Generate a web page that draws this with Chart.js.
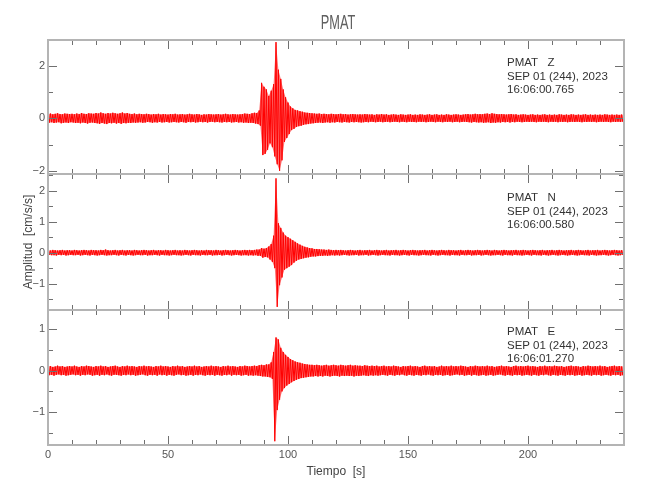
<!DOCTYPE html>
<html>
<head>
<meta charset="utf-8">
<script src="https://cdn.jsdelivr.net/npm/chart.js@4.4.0/dist/chart.umd.min.js"></script>
<style>
  html, body { margin: 0; padding: 0; background: #fff; }
  #wrap { position: relative; width: 650px; height: 500px; overflow: hidden; }
  #wrap canvas { position: absolute; left: 0; top: 0; }
  .txt { position: absolute; font-family: "Liberation Sans", Arial, sans-serif; white-space: pre; }
  #title { left: 288px; width: 100px; top: 12px; font-size: 20.6px; line-height: 20.6px;
           text-align: center; color: #606060; transform: scaleX(0.62); }
  .info { left: 507px; font-size: 11.5px; line-height: 13.5px; color: #333; }
</style>
</head>
<body>
<div id="wrap">
  <canvas id="cZ" width="650" height="500"></canvas>
  <canvas id="cN" width="650" height="500"></canvas>
  <canvas id="cE" width="650" height="500"></canvas>
  <div id="title" class="txt"></div>
  <div id="infoZ" class="txt info" style="top:56px"></div>
  <div id="infoN" class="txt info" style="top:191px"></div>
  <div id="infoE" class="txt info" style="top:325px"></div>
</div>
<script>
// envelope of each trace, one value per second (hi at t, lo at t + 0.5), cm/s/s
const dt = 1;
const zHi = [.16,.18,.15,.17,.19,.16,.15,.18,.17,.16,
  .17,.15,.18,.16,.20,.17,.16,.19,.18,.17,
  .20,.18,.22,.19,.17,.20,.18,.21,.19,.17,
  .19,.22,.18,.20,.17,.16,.18,.15,.17,.16,
  .15,.17,.16,.14,.16,.15,.17,.14,.16,.15,
  .14,.16,.15,.17,.14,.15,.16,.14,.15,.17,
  .15,.14,.16,.15,.13,.15,.14,.16,.15,.14,
  .15,.16,.14,.15,.17,.15,.14,.16,.15,.14,
  .15,.16,.18,.17,.16,.19,.21,.20,.30,1.35,
  1.20,1.10,.85,1.05,1.30,2.90,1.85,1.50,1.10,.80,
  .60,.45,.38,.32,.30,.27,.25,.22,.21,.20,
  .19,.18,.17,.18,.16,.17,.16,.15,.17,.16,
  .15,.16,.17,.15,.16,.14,.15,.16,.15,.14,
  .15,.14,.16,.15,.14,.15,.13,.15,.14,.16,
  .14,.15,.13,.14,.15,.14,.13,.15,.14,.13,
  .14,.15,.13,.14,.13,.15,.14,.13,.14,.15,
  .13,.14,.15,.13,.14,.13,.15,.14,.13,.14,
  .15,.14,.13,.14,.15,.16,.14,.15,.17,.15,
  .16,.15,.17,.18,.16,.19,.17,.16,.15,.16,
  .15,.14,.15,.16,.14,.15,.13,.14,.15,.14,
  .13,.14,.15,.13,.14,.13,.14,.15,.13,.14,
  .13,.14,.13,.15,.14,.13,.14,.13,.15,.14,
  .13,.14,.13,.14,.15,.13,.14,.13,.14,.13,
  .14,.13,.15,.14,.13,.14,.13,.14,.13,.14,
  .13];
const zLo = [-.17,-.15,-.18,-.16,-.15,-.19,-.17,-.16,-.18,-.15,
  -.16,-.18,-.17,-.19,-.16,-.18,-.20,-.17,-.16,-.18,
  -.19,-.21,-.18,-.20,-.22,-.18,-.19,-.17,-.20,-.18,
  -.21,-.18,-.19,-.17,-.18,-.16,-.17,-.16,-.15,-.17,
  -.16,-.14,-.15,-.17,-.15,-.16,-.14,-.16,-.15,-.14,
  -.16,-.15,-.14,-.15,-.16,-.14,-.15,-.17,-.14,-.15,
  -.14,-.16,-.15,-.13,-.15,-.14,-.16,-.14,-.13,-.15,
  -.14,-.15,-.16,-.14,-.15,-.14,-.16,-.15,-.14,-.16,
  -.15,-.17,-.16,-.18,-.17,-.18,-.20,-.22,-.28,-1.40,
  -1.35,-1.20,-.95,-1.10,-1.45,-1.75,-2.00,-1.60,-.90,-.75,
  -.60,-.45,-.40,-.33,-.30,-.28,-.25,-.23,-.22,-.20,
  -.19,-.18,-.17,-.16,-.18,-.16,-.15,-.17,-.15,-.16,
  -.14,-.15,-.16,-.14,-.15,-.16,-.14,-.15,-.14,-.15,
  -.16,-.15,-.14,-.15,-.13,-.14,-.15,-.14,-.13,-.15,
  -.14,-.13,-.15,-.14,-.13,-.14,-.15,-.13,-.14,-.15,
  -.13,-.14,-.14,-.15,-.13,-.14,-.13,-.15,-.14,-.13,
  -.14,-.15,-.13,-.14,-.15,-.13,-.14,-.13,-.15,-.14,
  -.13,-.15,-.14,-.13,-.14,-.15,-.16,-.14,-.15,-.16,
  -.15,-.17,-.16,-.15,-.18,-.16,-.17,-.15,-.16,-.14,
  -.15,-.14,-.16,-.14,-.15,-.13,-.14,-.15,-.14,-.13,
  -.14,-.13,-.14,-.15,-.13,-.14,-.13,-.14,-.15,-.13,
  -.14,-.13,-.15,-.13,-.14,-.13,-.15,-.14,-.13,-.14,
  -.13,-.14,-.15,-.13,-.14,-.13,-.14,-.13,-.15,-.14,
  -.13,-.14,-.13,-.14,-.15,-.13,-.14,-.13,-.14,-.13];

const nHi = [.08,.07,.09,.08,.07,.08,.09,.07,.08,.08,
  .07,.09,.08,.07,.08,.09,.08,.07,.09,.08,
  .08,.07,.09,.08,.10,.08,.07,.08,.09,.07,
  .08,.09,.07,.08,.08,.07,.09,.08,.07,.08,
  .09,.08,.07,.08,.09,.07,.08,.08,.07,.09,
  .08,.07,.08,.09,.07,.08,.07,.09,.08,.07,
  .08,.09,.08,.07,.08,.07,.09,.08,.08,.07,
  .09,.08,.07,.08,.09,.08,.07,.08,.09,.08,
  .07,.08,.09,.08,.09,.08,.09,.10,.10,.15,
  .13,.15,.20,.28,.55,2.40,.95,.80,.65,.55,
  .50,.45,.40,.35,.30,.26,.22,.19,.17,.15,
  .14,.12,.12,.11,.10,.10,.09,.10,.09,.08,
  .09,.08,.09,.08,.07,.08,.09,.08,.07,.08,
  .09,.07,.08,.08,.09,.07,.08,.09,.08,.07,
  .08,.09,.07,.08,.08,.09,.07,.08,.09,.08,
  .07,.08,.09,.08,.07,.08,.08,.09,.07,.08,
  .09,.08,.07,.08,.09,.08,.07,.09,.08,.08,
  .07,.08,.09,.07,.08,.09,.08,.07,.08,.09,
  .08,.07,.08,.09,.08,.07,.09,.08,.07,.08,
  .09,.08,.07,.08,.08,.09,.07,.08,.09,.08,
  .07,.08,.09,.08,.07,.08,.09,.07,.08,.08,
  .09,.07,.08,.09,.08,.07,.08,.08,.09,.07,
  .08,.09,.08,.07,.08,.09,.07,.08,.08,.09,
  .07,.08,.09,.08,.07,.08,.09,.08,.07,.08,
  .08];
const nLo = [-.07,-.08,-.08,-.09,-.07,-.08,-.07,-.09,-.08,-.07,
  -.08,-.08,-.07,-.09,-.08,-.07,-.08,-.09,-.07,-.08,
  -.09,-.08,-.07,-.08,-.09,-.08,-.08,-.07,-.08,-.09,
  -.07,-.08,-.09,-.07,-.08,-.09,-.08,-.07,-.08,-.08,
  -.07,-.09,-.08,-.08,-.07,-.08,-.09,-.07,-.08,-.08,
  -.09,-.08,-.07,-.08,-.08,-.09,-.08,-.07,-.08,-.09,
  -.07,-.08,-.08,-.09,-.07,-.08,-.08,-.07,-.09,-.08,
  -.08,-.07,-.09,-.08,-.07,-.08,-.09,-.08,-.07,-.08,
  -.09,-.08,-.08,-.09,-.08,-.09,-.08,-.10,-.10,-.16,
  -.14,-.15,-.22,-.30,-.50,-1.75,-1.05,-.80,-.55,-.50,
  -.45,-.40,-.32,-.26,-.22,-.20,-.18,-.16,-.15,-.13,
  -.12,-.12,-.11,-.10,-.10,-.09,-.10,-.09,-.08,-.09,
  -.08,-.09,-.08,-.07,-.08,-.09,-.08,-.08,-.07,-.09,
  -.08,-.08,-.07,-.09,-.08,-.07,-.08,-.09,-.08,-.07,
  -.08,-.08,-.09,-.07,-.08,-.08,-.09,-.08,-.07,-.08,
  -.09,-.07,-.08,-.08,-.09,-.08,-.07,-.08,-.08,-.09,
  -.07,-.08,-.09,-.08,-.07,-.08,-.08,-.09,-.07,-.08,
  -.08,-.09,-.07,-.08,-.08,-.07,-.09,-.08,-.08,-.07,
  -.09,-.08,-.07,-.08,-.09,-.08,-.08,-.07,-.08,-.09,
  -.07,-.08,-.08,-.09,-.07,-.08,-.08,-.09,-.08,-.07,
  -.08,-.09,-.07,-.08,-.08,-.09,-.07,-.08,-.09,-.08,
  -.07,-.08,-.09,-.08,-.07,-.08,-.09,-.08,-.07,-.08,
  -.09,-.08,-.07,-.08,-.08,-.09,-.07,-.08,-.09,-.08,
  -.08,-.07,-.08,-.09,-.08,-.07,-.08,-.09,-.08,-.07];

const eHi = [.10,.11,.09,.10,.12,.10,.11,.09,.10,.11,
  .10,.12,.10,.09,.11,.10,.12,.11,.10,.09,
  .11,.10,.12,.10,.11,.09,.10,.11,.12,.10,
  .09,.11,.10,.12,.10,.11,.10,.09,.11,.10,
  .12,.10,.11,.10,.09,.11,.10,.12,.10,.11,
  .10,.09,.11,.10,.12,.10,.11,.09,.10,.11,
  .10,.12,.10,.11,.09,.10,.11,.10,.12,.10,
  .11,.10,.09,.11,.10,.12,.10,.11,.10,.09,
  .11,.10,.12,.11,.10,.11,.12,.11,.13,.14,
  .13,.15,.15,.20,.45,.80,.75,.55,.45,.38,
  .33,.28,.25,.22,.20,.19,.17,.16,.15,.14,
  .14,.13,.14,.13,.12,.13,.14,.12,.13,.14,
  .13,.12,.14,.13,.12,.13,.14,.12,.13,.12,
  .12,.11,.13,.12,.11,.12,.11,.12,.10,.11,
  .12,.10,.11,.10,.12,.11,.10,.09,.11,.10,
  .11,.12,.10,.11,.10,.09,.11,.12,.10,.11,
  .10,.11,.09,.10,.12,.10,.11,.10,.12,.10,
  .11,.10,.12,.11,.10,.09,.11,.10,.12,.11,
  .10,.11,.10,.12,.10,.11,.09,.10,.11,.12,
  .10,.11,.10,.09,.11,.12,.10,.11,.10,.11,
  .12,.10,.11,.10,.09,.11,.10,.12,.10,.11,
  .10,.12,.11,.10,.11,.09,.10,.11,.12,.10,
  .11,.10,.09,.11,.10,.12,.11,.10,.11,.10,
  .12,.10,.11,.09,.10,.11,.12,.10,.11,.10,
  .11];
const eLo = [-.11,-.10,-.12,-.10,-.09,-.11,-.10,-.12,-.11,-.10,
  -.09,-.11,-.10,-.12,-.10,-.11,-.09,-.10,-.12,-.11,
  -.10,-.12,-.10,-.11,-.09,-.11,-.12,-.10,-.10,-.11,
  -.12,-.10,-.11,-.09,-.11,-.10,-.12,-.11,-.10,-.09,
  -.11,-.12,-.10,-.11,-.10,-.12,-.09,-.11,-.10,-.12,
  -.10,-.11,-.12,-.10,-.09,-.11,-.10,-.12,-.11,-.10,
  -.12,-.10,-.11,-.09,-.11,-.12,-.10,-.11,-.10,-.12,
  -.10,-.11,-.12,-.10,-.11,-.09,-.12,-.10,-.11,-.10,
  -.12,-.11,-.10,-.12,-.11,-.12,-.11,-.12,-.13,-.14,
  -.14,-.15,-.16,-.20,-1.70,-.95,-.70,-.50,-.42,-.36,
  -.32,-.28,-.25,-.22,-.20,-.18,-.17,-.16,-.15,-.14,
  -.14,-.13,-.14,-.13,-.14,-.12,-.13,-.14,-.13,-.12,
  -.13,-.14,-.12,-.13,-.12,-.13,-.12,-.14,-.12,-.13,
  -.12,-.11,-.12,-.13,-.11,-.12,-.11,-.12,-.11,-.10,
  -.11,-.12,-.10,-.11,-.12,-.10,-.11,-.09,-.11,-.12,
  -.10,-.11,-.12,-.10,-.11,-.12,-.10,-.11,-.09,-.11,
  -.12,-.10,-.11,-.10,-.12,-.11,-.10,-.12,-.11,-.10,
  -.09,-.11,-.10,-.12,-.11,-.10,-.12,-.10,-.11,-.12,
  -.11,-.10,-.12,-.11,-.10,-.12,-.11,-.10,-.09,-.11,
  -.12,-.10,-.11,-.12,-.10,-.11,-.10,-.12,-.11,-.10,
  -.11,-.12,-.10,-.11,-.12,-.10,-.11,-.09,-.11,-.12,
  -.10,-.11,-.12,-.10,-.11,-.12,-.10,-.11,-.10,-.12,
  -.11,-.10,-.12,-.11,-.10,-.11,-.12,-.10,-.11,-.10,
  -.12,-.11,-.10,-.11,-.12,-.10,-.11,-.10,-.12,-.11];

// axes
const timeMin = 0, timeMax = 240;
const timeTickStep = 10;
const timeLabels = [0, 50, 100, 150, 200];
const zRange = [-2.12, 2.98], zTickStep = 1, zLabels = [-2, 0, 2];
const nRange = [-1.85, 2.54], nTickStep = 0.5, nLabels = [-1, 0, 1, 2];
const eRange = [-1.79, 1.46], eTickStep = 0.5, eLabels = [-1, 0, 1];

const titleText = "PMAT";
const infoZ = ["PMAT   Z", "SEP 01 (244), 2023", "16:06:00.765"];
const infoN = ["PMAT   N", "SEP 01 (244), 2023", "16:06:00.580"];
const infoE = ["PMAT   E", "SEP 01 (244), 2023", "16:06:01.270"];
const xTitle = "Tiempo  [s]";
const yTitle = "Amplitud  [cm/s/s]";

document.getElementById("title").textContent = titleText;
document.getElementById("infoZ").textContent = infoZ.join("\n");
document.getElementById("infoN").textContent = infoN.join("\n");
document.getElementById("infoE").textContent = infoE.join("\n");

const FONT = "'Liberation Sans', Arial, sans-serif";
const RED = "#ff0000";

// zigzag hi/lo so the dense trace reads like the original record
function traceOf(hi, lo) {
  const pts = [];
  for (let i = 0; i < hi.length; i++) {
    pts.push({ x: i * dt, y: hi[i] });
    if (i < lo.length) pts.push({ x: i * dt + dt / 2, y: lo[i] });
  }
  return pts;
}

function envOf(vals, shift) {
  return vals.map((v, i) => ({ x: i * dt + shift, y: v }));
}

function fmt(v) {
  return v < 0 ? "\u2212" + Math.abs(v) : String(v);
}

// frame + inward ticks on all four sides
const framePlugin = {
  id: "frame",
  afterDatasetsDraw(chart, args, opts) {
    const { ctx, chartArea: a, scales } = chart;
    const line = (x1, y1, x2, y2) => {
      ctx.beginPath(); ctx.moveTo(x1, y1); ctx.lineTo(x2, y2); ctx.stroke();
    };
    ctx.save();
    ctx.strokeStyle = "#707070";
    ctx.lineWidth = 1;
    scales.x.ticks.forEach((t) => {
      const px = Math.round(scales.x.getPixelForValue(t.value)) + 0.5;
      const len = timeLabels.includes(t.value) ? 9 : 5;
      line(px, a.top, px, a.top + len);
      line(px, a.bottom, px, a.bottom - len);
    });
    scales.y.ticks.forEach((t) => {
      const py = Math.round(scales.y.getPixelForValue(t.value)) + 0.5;
      const len = opts.labels.includes(t.value) ? 9 : 5;
      line(a.left, py, a.left + len, py);
      line(a.right, py, a.right - len, py);
    });
    ctx.strokeStyle = "#b4b4b4";
    ctx.lineWidth = 2;
    ctx.strokeRect(a.left, a.top, a.right - a.left, a.bottom - a.top);
    ctx.restore();
  },
};

function makePanel(id, hi, lo, range, step, labels, pad, showX, showYTitle) {
  new Chart(document.getElementById(id), {
    type: "line",
    data: {
      datasets: [
        {
          data: envOf(hi, 0),
          borderWidth: 0,
          pointRadius: 0,
          backgroundColor: "rgba(255,0,0,0.55)",
          fill: "+1",
        },
        {
          data: envOf(lo, dt / 2),
          borderWidth: 0,
          pointRadius: 0,
          fill: false,
        },
        {
          data: traceOf(hi, lo),
          borderColor: RED,
          borderWidth: 1,
          pointRadius: 0,
          tension: 0,
          fill: false,
        },
      ],
    },
    options: {
      responsive: false,
      animation: false,
      events: [],
      devicePixelRatio: 1,
      layout: { padding: pad },
      plugins: {
        legend: { display: false },
        tooltip: { enabled: false },
        frame: { labels },
      },
      scales: {
        x: {
          type: "linear",
          display: showX,
          min: timeMin,
          max: timeMax,
          grid: { display: false, drawTicks: false },
          border: { display: false },
          ticks: {
            stepSize: timeTickStep,
            autoSkip: false,
            maxRotation: 0,
            padding: 3,
            color: "#555",
            font: { family: FONT, size: 11 },
            callback: (v) => (timeLabels.includes(v) ? String(v) : ""),
          },
          title: {
            display: showX,
            text: xTitle,
            color: "#444",
            font: { family: FONT, size: 12 },
            padding: { top: 0, bottom: 21 },
          },
          afterFit: (s) => { if (showX) s.height = 55; },
        },
        y: {
          min: range[0],
          max: range[1],
          grid: { display: false, drawTicks: false },
          border: { display: false },
          ticks: {
            stepSize: step,
            autoSkip: false,
            includeBounds: false,
            padding: 3,
            color: "#555",
            font: { family: FONT, size: 11 },
            callback: (v) => (labels.includes(v) ? fmt(v) : ""),
          },
          title: {
            display: showYTitle,
            text: yTitle,
            color: "#444",
            font: { family: FONT, size: 12 },
            padding: { top: 21, bottom: 0 },
          },
          afterFit: (s) => { s.width = 48; },
        },
      },
    },
    plugins: [framePlugin],
  });
}

makePanel("cZ", zHi, zLo, zRange, zTickStep, zLabels, { left: 0, right: 26, top: 40, bottom: 326 }, false, false);
makePanel("cN", nHi, nLo, nRange, nTickStep, nLabels, { left: 0, right: 26, top: 174, bottom: 190 }, false, true);
makePanel("cE", eHi, eLo, eRange, eTickStep, eLabels, { left: 0, right: 26, top: 310, bottom: 0 }, true, false);
</script>
</body>
</html>
